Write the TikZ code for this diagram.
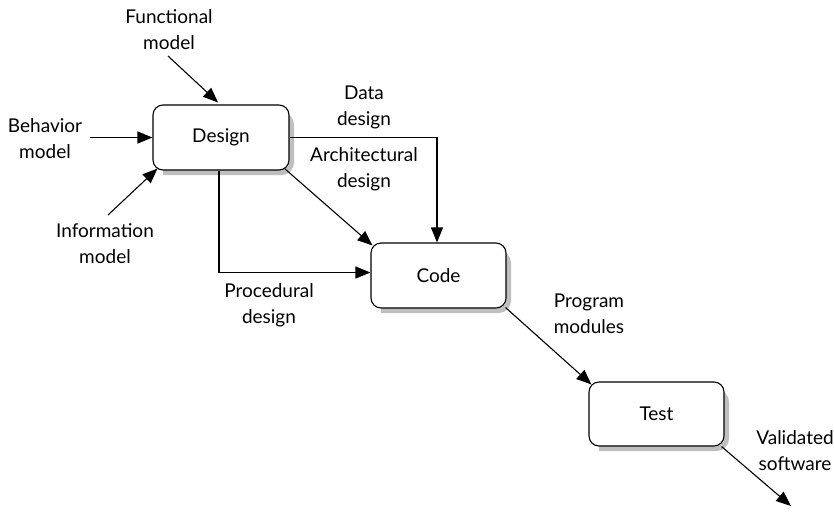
\documentclass[tikz,border=0pt]{standalone}
\usepackage{fontspec}
\setmainfont{Lato}
\usetikzlibrary{arrows.meta}
\begin{document}
\begin{tikzpicture}[x=1pt,y=-1pt,
  every node/.style={font=\fontsize{19}{26}\selectfont, align=center, inner sep=0pt},
  box/.style={draw=black, line width=1.1pt, fill=white, rounded corners=10pt},
  shadebox/.style={draw=none, fill=black!25, rounded corners=10pt},
  conn/.style={line width=1.1pt, -{Triangle[length=15pt,width=12pt]}}]
\useasboundingbox (0,0) rectangle (834,512);
% shadows
\path[draw=black!25, line width=5pt, rounded corners=10pt] (163,115) -- (291.5,115) -- (291.5,172.5) -- (163,172.5);
\path[draw=black!25, line width=5pt, rounded corners=10pt] (381,253) -- (508.5,253) -- (508.5,310.5) -- (381,310.5);
\path[draw=black!25, line width=5pt, rounded corners=10pt] (599,392) -- (726.5,392) -- (726.5,448.5) -- (599,448.5);
% boxes
\node[box, minimum width=136pt, minimum height=65pt] (design) at (221,137.5) {Design};
\node[box, minimum width=135pt, minimum height=65pt] (code) at (438.5,275.5) {Code};
\node[box, minimum width=135pt, minimum height=64pt] (test) at (656.5,414) {Test};
% labels
\node (functional) at (169,30) {Functional\\model};
\node (behavior) at (45,139) {Behavior\\model};
\node (information) at (105,244) {Information\\model};
\node (data) at (364,107) {Data\\design};
\node (arch) at (364,169) {Architectural\\design};
\node (proc) at (269,305) {Procedural\\design};
\node (prog) at (589,314) {Program\\modules};
\node (valid) at (795,451) {Validated\\software};
% free ends
\coordinate (f1) at (168,56);
\coordinate (b1) at (90,137.5);
\coordinate (i1) at (108,215);
\coordinate (v1) at (791,506);
% connectors
\draw[conn] (f1) -- ([xshift=-3pt,yshift=2pt]design.north);
\draw[conn] (b1) -- (design.west);
\draw[conn] (i1) -- ([xshift=5pt,yshift=2pt]design.south west);
\draw[conn] (design.east) -| ([xshift=-1.5pt]code.north);
\draw[conn] ([xshift=-5pt,yshift=2pt]design.south east) -- ([xshift=2pt,yshift=-3pt]code.north west);
\draw[conn] ([xshift=-2pt]design.south) |- ([yshift=3pt]code.west);
\draw[conn] ([xshift=-1pt,yshift=1pt]code.south east) -- ([xshift=3pt,yshift=-3pt]test.north west);
\draw[conn] ([xshift=-3pt]test.south east) -- (v1);
\end{tikzpicture}
\end{document}
